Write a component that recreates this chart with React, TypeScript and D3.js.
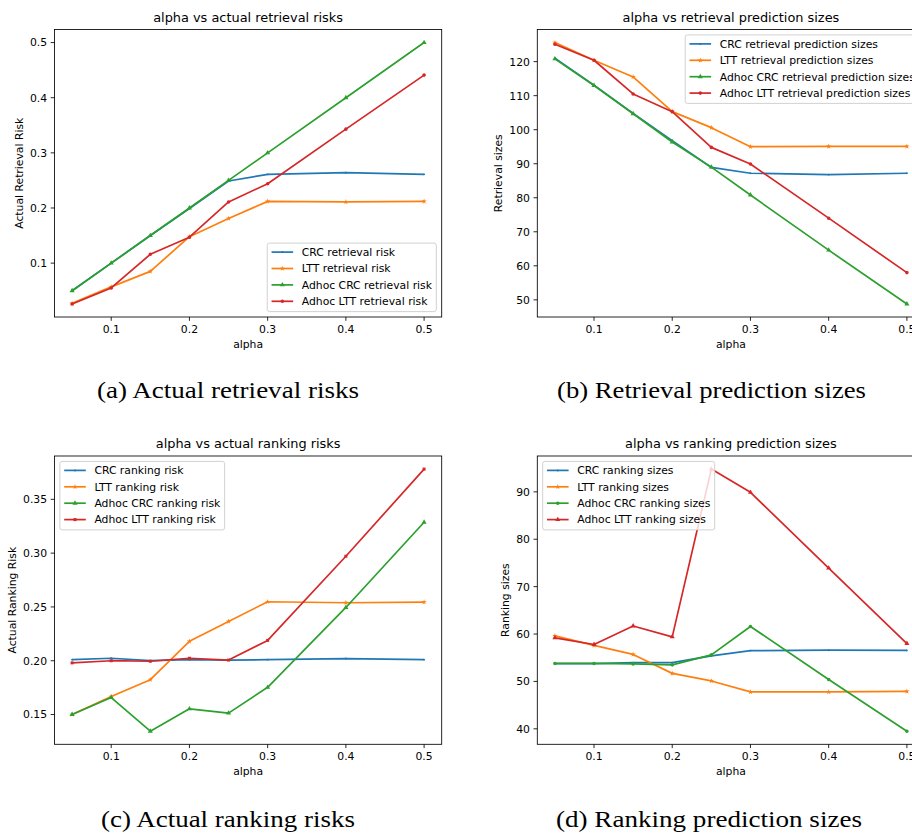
import { useMemo } from 'react';
import * as d3 from 'd3';

// shared x values (alpha)
const alphas = [0.05, 0.1, 0.15, 0.2, 0.25, 0.3, 0.4, 0.5];
const alphaTicks = [0.1, 0.2, 0.3, 0.4, 0.5];

// (a) actual retrieval risks
const crcRetrievalRisk = [0.05, 0.1, 0.15, 0.199, 0.249, 0.261, 0.264, 0.261];
const lttRetrievalRisk = [0.027, 0.057, 0.085, 0.148, 0.181, 0.212, 0.211, 0.212];
const adhocCrcRetrievalRisk = [0.05, 0.1, 0.15, 0.2, 0.25, 0.3, 0.4, 0.5];
const adhocLttRetrievalRisk = [0.026, 0.055, 0.116, 0.147, 0.211, 0.244, 0.343, 0.441];
const retrievalRiskTicks = [0.1, 0.2, 0.3, 0.4, 0.5];

// (b) retrieval prediction sizes
const crcRetrievalSizes = [121.0, 113.1, 104.8, 96.8, 88.9, 87.2, 86.8, 87.2];
const lttRetrievalSizes = [125.6, 120.4, 115.5, 105.3, 100.6, 95.0, 95.1, 95.1];
const adhocCrcRetrievalSizes = [120.8, 113.0, 104.7, 96.4, 89.0, 80.8, 64.6, 48.8];
const adhocLttRetrievalSizes = [125.1, 120.4, 110.5, 105.3, 94.8, 89.9, 74.0, 58.0];
const retrievalSizeTicks = [50, 60, 70, 80, 90, 100, 110, 120];

// (c) actual ranking risks
const crcRankingRisk = [0.201, 0.2023, 0.2001, 0.201, 0.2006, 0.201, 0.202, 0.201];
const lttRankingRisk = [0.15, 0.1667, 0.1824, 0.218, 0.2365, 0.2548, 0.2539, 0.2545];
const adhocCrcRankingRisk = [0.15, 0.1658, 0.1345, 0.1553, 0.1513, 0.1753, 0.2495, 0.3287];
const adhocLttRankingRisk = [0.198, 0.2, 0.1995, 0.2023, 0.2006, 0.2189, 0.2971, 0.3781];
const rankingRiskTicks = [0.15, 0.2, 0.25, 0.3, 0.35];

// (d) ranking prediction sizes
const crcRankingSizes = [53.74, 53.74, 53.95, 53.95, 55.4, 56.5, 56.6, 56.55];
const lttRankingSizes = [59.6, 57.6, 55.7, 51.7, 50.1, 47.8, 47.8, 47.9];
const adhocCrcRankingSizes = [53.8, 53.8, 53.7, 53.5, 55.6, 61.6, 50.4, 39.5];
const adhocLttRankingSizes = [59.2, 57.8, 61.7, 59.4, 94.8, 89.9, 73.9, 58.0];
const rankingSizeTicks = [40, 50, 60, 70, 80, 90];

const BLUE = '#1f77b4';
const ORANGE = '#ff7f0e';
const GREEN = '#2ca02c';
const RED = '#d62728';

const SANS = 'DejaVu Sans, sans-serif';
const FS = 10.8;

type Series = { name: string; values: number[]; color: string; marker: string };
type Box = { left: number; right: number; top: number; bottom: number };

const symbolFor = (m: string) => {
  if (m === '*') return d3.symbol().type(d3.symbolStar).size(9)();
  if (m === '^') return d3.symbol().type(d3.symbolTriangle).size(11)();
  if (m === 's') return d3.symbol().type(d3.symbolSquare).size(9)();
  if (m === 'o') return d3.symbol().type(d3.symbolCircle).size(10)();
  return d3.symbol().type(d3.symbolCircle).size(3)();
};

let ctx: CanvasRenderingContext2D | null = null;
const textWidth = (t: string) => {
  if (!ctx) ctx = document.createElement('canvas').getContext('2d');
  if (!ctx) return t.length * 6.5;
  ctx.font = `${FS}px DejaVu Sans`;
  return ctx.measureText(t).width;
};

function Panel({ title, yLabel, yLabelX, box, series, yTicks, yFormat, legendLoc }: {
  title: string; yLabel: string; yLabelX: number; box: Box; series: Series[];
  yTicks: number[]; yFormat: (v: number) => string; legendLoc: string;
}) {
  const [x0, x1] = d3.extent(alphas) as [number, number];
  const xPad = (x1 - x0) * 0.05;
  const x = d3.scaleLinear().domain([x0 - xPad, x1 + xPad]).range([box.left, box.right]);

  const all = series.flatMap(s => s.values);
  const [y0, y1] = d3.extent(all) as [number, number];
  const yPad = (y1 - y0) * 0.05;
  const y = d3.scaleLinear().domain([y0 - yPad, y1 + yPad]).range([box.bottom, box.top]);

  const line = d3.line<number>().x((_, i) => x(alphas[i])).y(v => y(v));

  // legend geometry (matplotlib-like)
  const legend = useMemo(() => {
    const maxW = d3.max(series, s => textWidth(s.name)) ?? 0;
    const w = 4.3 + 21.6 + 8.6 + maxW + 4.3;
    const h = 68.5;
    const lx = legendLoc === 'upper left' ? box.left + 5.4 : box.right - 5.4 - w;
    const ly = legendLoc === 'lower right' ? box.bottom - 5.4 - h : box.top + 5.4;
    return { lx, ly, w, h };
  }, [series, legendLoc, box]);

  const midX = (box.left + box.right) / 2;
  const midY = (box.top + box.bottom) / 2;

  return (
    <g fontFamily={SANS}>
      <rect x={box.left} y={box.top} width={box.right - box.left} height={box.bottom - box.top} fill="#fff" />
      {series.map(s => (
        <g key={s.name}>
          <path d={line(s.values) ?? ''} fill="none" stroke={s.color} strokeWidth={1.7} strokeLinejoin="round" />
          {s.values.map((v, i) => (
            <path key={i} d={symbolFor(s.marker) ?? ''} transform={`translate(${x(alphas[i])},${y(v)})`} fill={s.color} />
          ))}
        </g>
      ))}
      <rect x={box.left} y={box.top} width={box.right - box.left} height={box.bottom - box.top} fill="none" stroke="#000" strokeWidth={0.85} />
      {alphaTicks.map(t => (
        <g key={t}>
          <line x1={x(t)} x2={x(t)} y1={box.bottom} y2={box.bottom + 3.8} stroke="#000" strokeWidth={0.85} />
          <text x={x(t)} y={box.bottom + 15.8} textAnchor="middle" fontSize={FS}>{d3.format('.1f')(t)}</text>
        </g>
      ))}
      {yTicks.map(t => (
        <g key={t}>
          <line x1={box.left - 3.8} x2={box.left} y1={y(t)} y2={y(t)} stroke="#000" strokeWidth={0.85} />
          <text x={box.left - 7.4} y={y(t)} dy="0.36em" textAnchor="end" fontSize={FS}>{yFormat(t)}</text>
        </g>
      ))}
      <text x={midX} y={box.bottom + 31} textAnchor="middle" fontSize={FS}>alpha</text>
      <text transform={`translate(${yLabelX},${midY}) rotate(-90)`} dy="0.36em" textAnchor="middle" fontSize={FS}>{yLabel}</text>
      <text x={midX} y={box.top - 8} textAnchor="middle" fontSize={12.9}>{title}</text>
      <g>
        <rect x={legend.lx} y={legend.ly} width={legend.w} height={legend.h} rx={2.2}
          fill="#fff" fillOpacity={0.8} stroke="#cccccc" strokeWidth={0.9} />
        {series.map((s, i) => {
          const ry = legend.ly + 9 + i * 16.4;
          const hx0 = legend.lx + 4.3;
          const hx1 = hx0 + 21.6;
          return (
            <g key={s.name}>
              <line x1={hx0} x2={hx1} y1={ry} y2={ry} stroke={s.color} strokeWidth={1.7} />
              <path d={symbolFor(s.marker) ?? ''} transform={`translate(${(hx0 + hx1) / 2},${ry})`} fill={s.color} />
              <text x={hx1 + 8.6} y={ry} dy="0.36em" fontSize={FS}>{s.name}</text>
            </g>
          );
        })}
      </g>
    </g>
  );
}

const CAPTION_FONT = 'Liberation Serif, serif';

export default function App() {
  const f1 = d3.format('.1f');
  const f2 = d3.format('.2f');
  const f0 = d3.format('d');
  return (
    <div style={{ position: 'absolute', left: 0, top: 0, width: 912, height: 833, overflow: 'hidden', background: '#fff' }}>
      <svg width={912} height={833} style={{ display: 'block' }}>
        <rect width={912} height={833} fill="#fff" />
        <Panel
          title="alpha vs actual retrieval risks"
          yLabel="Actual Retrieval Risk"
          yLabelX={19}
          box={{ left: 54.5, right: 441.7, top: 29.5, bottom: 317 }}
          yTicks={retrievalRiskTicks}
          yFormat={f1}
          legendLoc="lower right"
          series={[
            { name: 'CRC retrieval risk', values: crcRetrievalRisk, color: BLUE, marker: '.' },
            { name: 'LTT retrieval risk', values: lttRetrievalRisk, color: ORANGE, marker: '*' },
            { name: 'Adhoc CRC retrieval risk', values: adhocCrcRetrievalRisk, color: GREEN, marker: '^' },
            { name: 'Adhoc LTT retrieval risk', values: adhocLttRetrievalRisk, color: RED, marker: 'o' },
          ]}
        />
        <Panel
          title="alpha vs retrieval prediction sizes"
          yLabel="Retrieval sizes"
          yLabelX={497.7}
          box={{ left: 537.3, right: 924.5, top: 29.5, bottom: 317 }}
          yTicks={retrievalSizeTicks}
          yFormat={f0}
          legendLoc="upper right"
          series={[
            { name: 'CRC retrieval prediction sizes', values: crcRetrievalSizes, color: BLUE, marker: '.' },
            { name: 'LTT retrieval prediction sizes', values: lttRetrievalSizes, color: ORANGE, marker: '*' },
            { name: 'Adhoc CRC retrieval prediction sizes', values: adhocCrcRetrievalSizes, color: GREEN, marker: '^' },
            { name: 'Adhoc LTT retrieval prediction sizes', values: adhocLttRetrievalSizes, color: RED, marker: 'o' },
          ]}
        />
        <Panel
          title="alpha vs actual ranking risks"
          yLabel="Actual Ranking Risk"
          yLabelX={11.7}
          box={{ left: 54.5, right: 441.7, top: 456, bottom: 744.3 }}
          yTicks={rankingRiskTicks}
          yFormat={f2}
          legendLoc="upper left"
          series={[
            { name: 'CRC ranking risk', values: crcRankingRisk, color: BLUE, marker: '.' },
            { name: 'LTT ranking risk', values: lttRankingRisk, color: ORANGE, marker: '*' },
            { name: 'Adhoc CRC ranking risk', values: adhocCrcRankingRisk, color: GREEN, marker: '^' },
            { name: 'Adhoc LTT ranking risk', values: adhocLttRankingRisk, color: RED, marker: 's' },
          ]}
        />
        <Panel
          title="alpha vs ranking prediction sizes"
          yLabel="Ranking sizes"
          yLabelX={505.3}
          box={{ left: 537.3, right: 924.5, top: 456, bottom: 744.3 }}
          yTicks={rankingSizeTicks}
          yFormat={f0}
          legendLoc="upper left"
          series={[
            { name: 'CRC ranking sizes', values: crcRankingSizes, color: BLUE, marker: '.' },
            { name: 'LTT ranking sizes', values: lttRankingSizes, color: ORANGE, marker: '*' },
            { name: 'Adhoc CRC ranking sizes', values: adhocCrcRankingSizes, color: GREEN, marker: 'o' },
            { name: 'Adhoc LTT ranking sizes', values: adhocLttRankingSizes, color: RED, marker: '^' },
          ]}
        />
        <g fontFamily={CAPTION_FONT} fontSize={23} fill="#000">
          <text x={97} y={398} textLength={262} lengthAdjust="spacingAndGlyphs">(a) Actual retrieval risks</text>
          <text x={557} y={398} textLength={309} lengthAdjust="spacingAndGlyphs">(b) Retrieval prediction sizes</text>
          <text x={101} y={827} textLength={254} lengthAdjust="spacingAndGlyphs">(c) Actual ranking risks</text>
          <text x={556} y={827} textLength={306} lengthAdjust="spacingAndGlyphs">(d) Ranking prediction sizes</text>
        </g>
      </svg>
    </div>
  );
}
